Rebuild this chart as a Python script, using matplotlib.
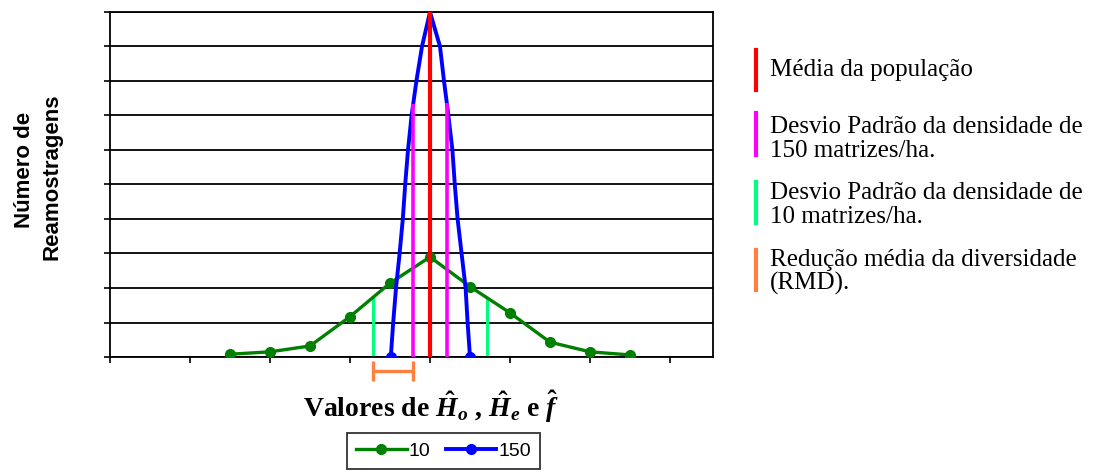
import numpy as np
import matplotlib
matplotlib.use("Agg")
import matplotlib.pyplot as plt

plt.rcParams['mathtext.fontset'] = 'custom'
plt.rcParams['mathtext.rm'] = 'Liberation Serif:bold'
plt.rcParams['mathtext.it'] = 'Liberation Serif:italic:bold'
plt.rcParams['mathtext.bf'] = 'Liberation Serif:bold'

# ---- data (x in axis-tick units, y in gridline units) ----
green_x = [1.5, 2.0, 2.5, 3.0, 3.5, 4.0, 4.5, 5.0, 5.5, 6.0, 6.5]
green_y = [0.08, 0.15, 0.32, 1.17, 2.14, 2.9, 2.04, 1.28, 0.43, 0.15, 0.06]

blue_x = [3.51, 3.54, 3.575, 3.62, 3.66, 3.69, 3.725, 3.77, 3.83, 3.90, 4.00,
          4.125, 4.175, 4.23, 4.28, 4.31, 4.345, 4.395, 4.445, 4.47, 4.50]
blue_y = [0, 1, 2, 3, 4, 5, 6, 7, 8, 9, 10,
          9, 8, 7, 6, 5, 4, 3, 2, 1, 0]

pop_mean = 4.0
sd_150 = 0.21
sd_10 = 0.71

series_labels = ['10', '150']
note_labels = ['Média da população',
               'Desvio Padrão da densidade de\n150 matrizes/ha.',
               'Desvio Padrão da densidade de\n10 matrizes/ha.',
               'Redução média da diversidade\n(RMD).']
note_colors = ['#FF0000', '#FF00FF', '#00FF80', '#FF8040']

# ---- figure ----
W, H = 1112, 472
fig = plt.figure(figsize=(W / 100, H / 100), dpi=100)
ax = fig.add_axes([110 / W, 1 - 357 / H, (713 - 110) / W, (357 - 12) / H])

ax.set_xlim(0, (713 - 110) / 80)
ax.set_ylim(0, 10)
ax.set_xticks(np.arange(0, 8))
ax.set_yticks(np.arange(0, 11))
ax.set_xticklabels([])
ax.set_yticklabels([])
ax.tick_params(axis='both', direction='out', length=4, width=1.2, color='black')
ax.yaxis.grid(True, color='black', linewidth=1.3)
ax.set_axisbelow(True)
for s in ax.spines.values():
    s.set_color('black')
    s.set_linewidth(1.3)

# SD lines for 10 (light green) up to green curve
for xv in [pop_mean - sd_10, pop_mean + sd_10]:
    ax.plot([xv, xv], [0, np.interp(xv, green_x, green_y)],
            color=note_colors[2], lw=2.2, zorder=2, solid_capstyle='butt')

ln10, = ax.plot(green_x, green_y, color='#008000', lw=2.4, marker='o',
                markersize=7, zorder=3, label=series_labels[0])
ln150, = ax.plot(blue_x, blue_y, color='#0000FF', lw=2.8, marker='o',
                 markersize=7, markevery=[0, len(blue_x) - 1], zorder=4,
                 label=series_labels[1])

# SD lines for 150 (magenta) up to blue curve
for xv in [pop_mean - sd_150, pop_mean + sd_150]:
    ax.plot([xv, xv], [0, np.interp(xv, blue_x, blue_y)],
            color=note_colors[1], lw=2.6, zorder=5, solid_capstyle='butt')

# population mean
ax.plot([pop_mean, pop_mean], [0, 10], color=note_colors[0], lw=3,
        zorder=6, solid_capstyle='butt')

# RMD bar below axis
eb = ax.errorbar([(2 * pop_mean - sd_10 - sd_150) / 2], [-0.41],
                 xerr=[(sd_10 - sd_150) / 2], color=note_colors[3],
                 lw=2.4, capsize=7, capthick=2.4, fmt='none', zorder=6)
for art in eb.get_children():
    art.set_clip_on(False)

# axis labels
fig.text(431 / W, 1 - 407 / H,
         r'Valores de $\hat{H}_o$ , $\hat{H}_e$ e $\hat{f}$',
         ha='center', va='center', fontsize=20, fontweight='bold',
         family='Liberation Serif')
fig.text(25 / W, 1 - 170 / H, 'Número de', rotation=90, ha='center',
         va='center', fontsize=16, fontweight='bold', family='Liberation Sans')
fig.text(52 / W, 1 - 177 / H, 'Reamostragens', rotation=90, ha='center',
         va='center', fontsize=16, fontweight='bold', family='Liberation Sans')

# series legend
leg = fig.legend(handles=[ln10, ln150], labels=series_labels, ncol=2,
                 loc='center', bbox_to_anchor=(443.5 / W, 1 - 451 / H),
                 frameon=True, fancybox=False, edgecolor='black',
                 prop={'family': 'Liberation Sans', 'size': 14},
                 handlelength=2.6, handletextpad=0.1, columnspacing=0.8,
                 borderpad=0.45, numpoints=1)
leg.get_frame().set_linewidth(1.3)

# right-hand notes
note_centers = [70, 139, 205, 272]
bar_spans = [(50, 90), (113, 155), (182, 223), (250, 290)]
for lab, col, yc, (y0, y1) in zip(note_labels, note_colors, note_centers, bar_spans):
    fig.add_artist(plt.Line2D([756 / W, 756 / W], [1 - y0 / H, 1 - y1 / H],
                              color=col, lw=3, transform=fig.transFigure))
    fig.text(770 / W, 1 - yc / H, lab, ha='left', va='center',
             fontsize=18, family='Liberation Serif', linespacing=1.1)

fig.savefig('out.png', dpi=100)
